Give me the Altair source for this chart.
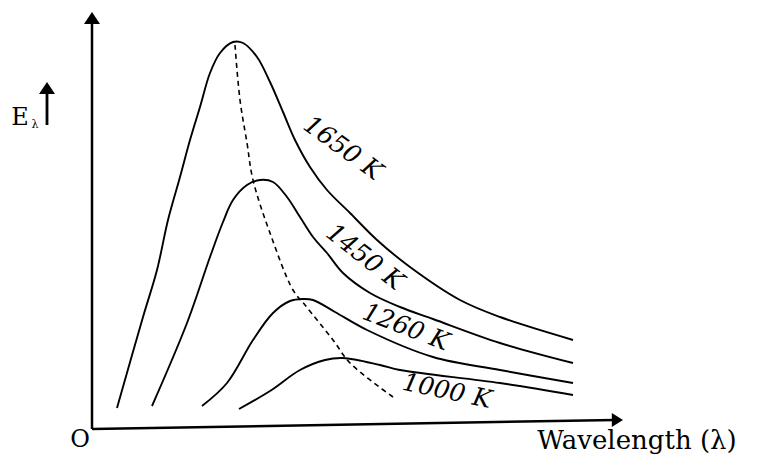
import altair as alt
import pandas as pd

# --- curve data (arbitrary units: wavelength vs E_lambda) ---
c1650_x = [25, 51, 65, 76, 88, 98, 108, 118, 128, 141, 151, 165, 178, 191, 203, 218, 235, 258, 285, 318, 368, 408, 481]
c1650_y = [17, 108, 155, 205, 248, 285, 318, 352, 372, 383, 382, 368, 343, 313, 285, 258, 235, 212, 185, 158, 125, 108, 85]

c1450_x = [60, 95, 118, 131, 141, 155, 168, 181, 195, 208, 221, 235, 251, 278, 308, 341, 408, 481]
c1450_y = [19, 102, 168, 203, 225, 240, 245, 243, 228, 208, 188, 172, 152, 132, 118, 106, 82, 62]

c1260_x = [110, 135, 161, 181, 198, 211, 221, 243, 275, 341, 408, 481]
c1260_y = [19, 42, 85, 112, 124, 126, 125, 113, 95, 68, 55, 42]

c1000_x = [147, 178, 208, 233, 251, 288, 308, 408, 481]
c1000_y = [16, 34, 55, 65, 67, 60, 55, 42, 30]

peak_x = [143, 148, 155, 161, 178, 201, 213, 241, 258, 301]
peak_y = [380, 325, 282, 245, 192, 135, 120, 85, 62, 28]

# curve labels
label_text = ["1650 K", "1450 K", "1260 K", "1000 K"]
label_x = [251, 273, 314, 355]
label_y = [277, 168, 98, 34]
label_angle = [36, 38, 21, 12]

# axes
xaxis_x = [0, 523]
xaxis_y = [-4, 5]
yaxis_x = [0, 0]
yaxis_y = [-4, 405]
arrow_x = [0, 531]
arrow_y = [413, 5]

XD = [-84, 661]
YD = [-30, 417]

xs = alt.Scale(domain=XD, nice=False, zero=False)
ys = alt.Scale(domain=YD, nice=False, zero=False)

rows = []
for name, xx, yy in [("1650", c1650_x, c1650_y), ("1450", c1450_x, c1450_y),
                     ("1260", c1260_x, c1260_y), ("1000", c1000_x, c1000_y)]:
    for i, (a, b) in enumerate(zip(xx, yy)):
        rows.append({"series": name, "x": a, "y": b, "o": i})
curves_df = pd.DataFrame(rows)
peak_df = pd.DataFrame({"x": peak_x, "y": peak_y, "o": list(range(len(peak_x)))})

curves = alt.Chart(curves_df).mark_line(color="black", strokeWidth=1.9, interpolate="catmull-rom").encode(
    x=alt.X("x:Q", scale=xs, axis=None),
    y=alt.Y("y:Q", scale=ys, axis=None),
    detail="series:N",
    order="o:Q",
)

peak = alt.Chart(peak_df).mark_line(color="black", strokeWidth=1.6, strokeDash=[5, 4],
                                    interpolate="catmull-rom").encode(
    x=alt.X("x:Q", scale=xs, axis=None),
    y=alt.Y("y:Q", scale=ys, axis=None),
    order="o:Q",
)

lab_df = pd.DataFrame({"t": label_text, "x": label_x, "y": label_y, "a": label_angle})
labels = alt.Chart(lab_df).mark_text(font="DejaVu Serif", fontStyle="italic", fontSize=25,
                                     align="center", baseline="middle", color="black").encode(
    x=alt.X("x:Q", scale=xs, axis=None),
    y=alt.Y("y:Q", scale=ys, axis=None),
    text="t:N",
    angle=alt.Angle("a:Q", scale=None),
)

ax_df = pd.DataFrame({"x": [xaxis_x[0], yaxis_x[0]], "x2": [xaxis_x[1], yaxis_x[1]],
                      "y": [xaxis_y[0], yaxis_y[0]], "y2": [xaxis_y[1], yaxis_y[1]]})
axes = alt.Chart(ax_df).mark_rule(color="black", strokeWidth=2.5).encode(
    x=alt.X("x:Q", scale=xs, axis=None), x2="x2:Q",
    y=alt.Y("y:Q", scale=ys, axis=None), y2="y2:Q",
)

up_head = alt.Chart(pd.DataFrame({"x": [arrow_x[0]], "y": [arrow_y[0]]})).mark_point(
    shape="M0,0L1,1.5L-1,1.5Z", size=256, filled=True, color="black", opacity=1).encode(
    x=alt.X("x:Q", scale=xs, axis=None), y=alt.Y("y:Q", scale=ys, axis=None))

right_head = alt.Chart(pd.DataFrame({"x": [arrow_x[1]], "y": [arrow_y[1]]})).mark_point(
    shape="M0,0L-1.6,-1L-1.6,1Z", size=196, filled=True, color="black", opacity=1).encode(
    x=alt.X("x:Q", scale=xs, axis=None), y=alt.Y("y:Q", scale=ys, axis=None))

# axis texts (alphabetic baseline)
txt_df = pd.DataFrame({"t": ["O", "Wavelength (λ)", "E"], "x": [-12, 545, -72], "y": [-22, -24, 300],
                       "s": [24, 26, 24]})
texts = alt.Chart(txt_df).mark_text(font="DejaVu Serif", align="center", baseline="alphabetic",
                                    color="black").encode(
    x=alt.X("x:Q", scale=xs, axis=None), y=alt.Y("y:Q", scale=ys, axis=None),
    text="t:N", size=alt.Size("s:Q", scale=None),
)
sub = alt.Chart(pd.DataFrame({"t": ["λ"], "x": [-57], "y": [297]})).mark_text(
    font="DejaVu Serif", fontSize=11, align="center", baseline="alphabetic", color="black").encode(
    x=alt.X("x:Q", scale=xs, axis=None), y=alt.Y("y:Q", scale=ys, axis=None), text="t:N")

e_arrow = alt.Chart(pd.DataFrame({"x": [-45], "y": [300], "y2": [332]})).mark_rule(
    color="black", strokeWidth=2.8).encode(
    x=alt.X("x:Q", scale=xs, axis=None), y=alt.Y("y:Q", scale=ys, axis=None), y2="y2:Q")
e_head = alt.Chart(pd.DataFrame({"x": [-45], "y": [343]})).mark_point(
    shape="M0,0L1,1.5L-1,1.5Z", size=256, filled=True, color="black", opacity=1).encode(
    x=alt.X("x:Q", scale=xs, axis=None), y=alt.Y("y:Q", scale=ys, axis=None))

chart = alt.layer(axes, up_head, right_head, curves, peak, labels, texts, sub, e_arrow, e_head).properties(
    width=745, height=447, autosize=alt.AutoSizeParams(type="none"), padding=0,
    background="white",
).configure_view(stroke=None)

chart.save("out.html", embed_options={"renderer": "svg", "actions": False})
